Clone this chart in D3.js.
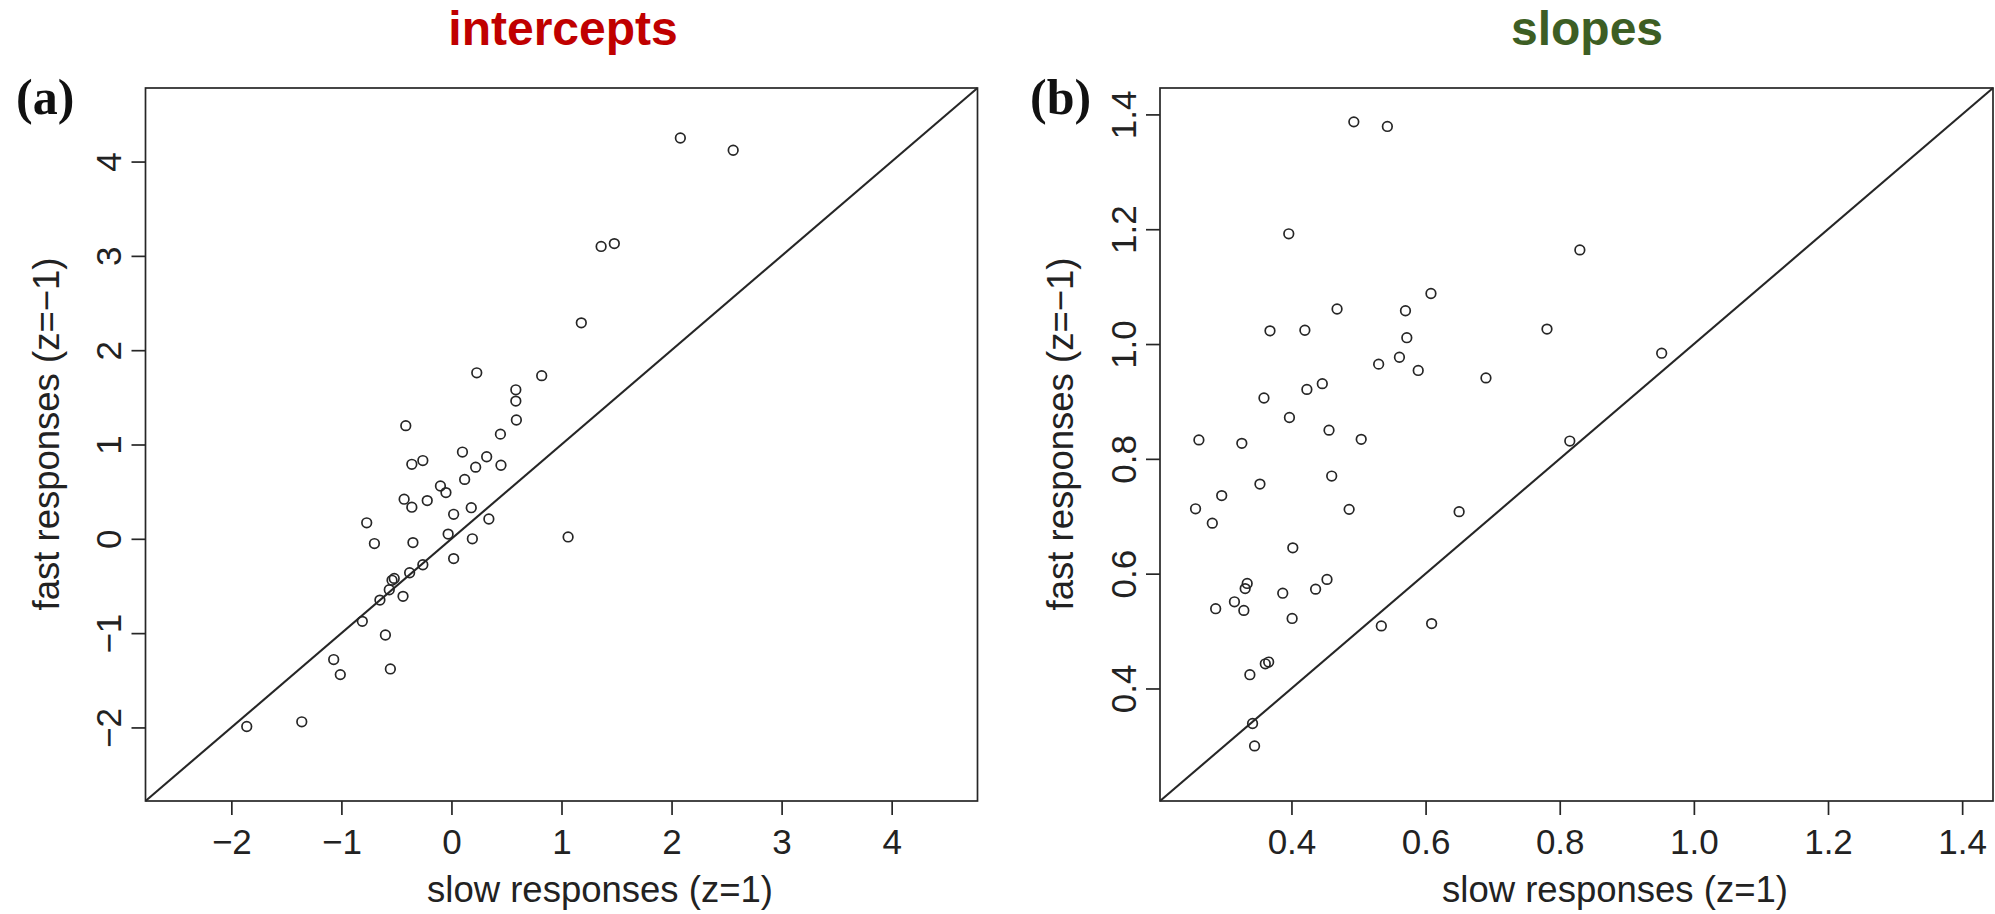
<!DOCTYPE html>
<html>
<head>
<meta charset="utf-8">
<script src="https://cdn.jsdelivr.net/npm/d3@7"></script>
<style>
  html, body { margin: 0; padding: 0; background: #fff; }
  svg { display: block; }
</style>
</head>
<body>
<svg id="chart" width="1995" height="914"></svg>
<script>
// Intercepts: slow responses (z=1) vs fast responses (z=-1)
const interceptSlow = [2.08, 2.56, 1.36, 1.48, 1.18, 0.23, 0.82, 0.585, 0.585, 0.59,
  -0.415, 0.445, 0.10, 0.32, -0.36, -0.26, 0.22, 0.45, 0.12, -0.10,
  -0.05, -0.43, -0.36, -0.22, 0.18, 0.02, 0.34, -0.77, -0.03, 0.19,
  -0.70, -0.35, 0.02, -0.26, -0.38, -0.54, -0.52, -0.565, -0.65, -0.44,
  -0.81, -0.60, -1.07, -1.01, -0.555, -1.86, -1.36, 1.06];
const interceptFast = [4.25, 4.12, 3.10, 3.13, 2.29, 1.76, 1.73, 1.58, 1.46, 1.26,
  1.20, 1.11, 0.92, 0.87, 0.79, 0.83, 0.76, 0.78, 0.63, 0.56,
  0.49, 0.42, 0.335, 0.405, 0.33, 0.26, 0.21, 0.17, 0.05, 0.00,
  -0.05, -0.04, -0.21, -0.275, -0.36, -0.44, -0.42, -0.54, -0.65, -0.61,
  -0.875, -1.02, -1.28, -1.44, -1.38, -1.99, -1.94, 0.02];

// Slopes: slow responses (z=1) vs fast responses (z=-1)
const slopeSlow = [0.493, 0.543, 0.396, 0.830, 0.608, 0.468, 0.570, 0.781, 0.368, 0.420,
  0.572, 0.952, 0.561, 0.530, 0.589, 0.690, 0.446, 0.423, 0.359, 0.397,
  0.456, 0.262, 0.504, 0.326, 0.815, 0.460, 0.353, 0.296, 0.257, 0.486,
  0.650, 0.282, 0.402, 0.334, 0.331, 0.453, 0.436, 0.387, 0.315, 0.287,
  0.329, 0.401, 0.534, 0.609, 0.366, 0.361, 0.338, 0.342, 0.345];
const slopeFast = [1.387, 1.379, 1.192, 1.164, 1.088, 1.061, 1.058, 1.026, 1.023, 1.024,
  1.011, 0.984, 0.977, 0.965, 0.954, 0.941, 0.931, 0.921, 0.906, 0.872,
  0.850, 0.833, 0.834, 0.827, 0.831, 0.770, 0.756, 0.736, 0.713, 0.712,
  0.708, 0.688, 0.645, 0.583, 0.574, 0.590, 0.573, 0.566, 0.551, 0.539,
  0.536, 0.522, 0.509, 0.513, 0.446, 0.443, 0.424, 0.339, 0.300];

// Axis ranges and tick values
const interceptDomain = [-2.78, 4.78];
const interceptTicks = [-2, -1, 0, 1, 2, 3, 4];
const slopeDomain = [0.204, 1.446];
const slopeTicks = [0.4, 0.6, 0.8, 1.0, 1.2, 1.4];

const panelTitles = ["intercepts", "slopes"];
const panelLetters = ["(a)", "(b)"];
const xTitle = "slow responses (z=1)";
const yTitle = "fast responses (z=\u22121)";

const svg = d3.select("#chart");
const ink = "#262626";
const sansFont = "'Liberation Sans', Arial, Helvetica, sans-serif";
const fmtInt = v => (v < 0 ? "\u2212" + Math.abs(v) : String(v));
const fmtDec = v => v.toFixed(1);

const panels = [
  { left: 145.5, right: 977.5, top: 88, bottom: 801,
    xs: interceptSlow, ys: interceptFast, domain: interceptDomain, ticks: interceptTicks, fmt: fmtInt,
    title: panelTitles[0], titleColor: "#c00000", titleX: 563,
    letter: panelLetters[0], letterX: 16, xTitleX: 600, yTitleY: 434 },
  { left: 1160, right: 1993, top: 88, bottom: 801,
    xs: slopeSlow, ys: slopeFast, domain: slopeDomain, ticks: slopeTicks, fmt: fmtDec,
    title: panelTitles[1], titleColor: "#3d5e24", titleX: 1587,
    letter: panelLetters[1], letterX: 1030, xTitleX: 1615, yTitleY: 434 }
];

panels.forEach(p => {
  const w = p.right - p.left, h = p.bottom - p.top;
  const x = d3.scaleLinear().domain(p.domain).range([0, w]);
  const y = d3.scaleLinear().domain(p.domain).range([h, 0]);

  const g = svg.append("g").attr("transform", `translate(${p.left},${p.top})`);

  // identity line y = x across the full range
  g.append("line")
    .attr("x1", x(p.domain[0])).attr("y1", y(p.domain[0]))
    .attr("x2", x(p.domain[1])).attr("y2", y(p.domain[1]))
    .attr("stroke", ink).attr("stroke-width", 2.1);

  // points
  g.selectAll("circle.pt")
    .data(p.xs.map((v, i) => [v, p.ys[i]]))
    .join("circle")
    .attr("class", "pt")
    .attr("cx", d => x(d[0])).attr("cy", d => y(d[1]))
    .attr("r", 4.8)
    .attr("fill", "none").attr("stroke", ink).attr("stroke-width", 1.7);

  // plot frame
  g.append("rect")
    .attr("x", 0).attr("y", 0).attr("width", w).attr("height", h)
    .attr("fill", "none").attr("stroke", ink).attr("stroke-width", 1.7);

  // bottom axis
  const xAxis = g.append("g").attr("transform", `translate(0,${h})`)
    .call(d3.axisBottom(x).tickValues(p.ticks).tickSize(14).tickSizeOuter(0).tickFormat(p.fmt));
  xAxis.select(".domain").remove();
  xAxis.selectAll(".tick line").attr("stroke", ink).attr("stroke-width", 1.7);
  xAxis.selectAll(".tick text")
    .attr("y", 53).attr("dy", 0)
    .attr("font-family", sansFont).attr("font-size", 35).attr("fill", "#222");

  // left axis with labels running along the axis
  const yAxis = g.append("g")
    .call(d3.axisLeft(y).tickValues(p.ticks).tickSize(14).tickSizeOuter(0).tickFormat(p.fmt));
  yAxis.select(".domain").remove();
  yAxis.selectAll(".tick line").attr("stroke", ink).attr("stroke-width", 1.7);
  yAxis.selectAll(".tick text")
    .attr("x", null).attr("dy", "0.35em")
    .attr("transform", "translate(-36.5,0) rotate(-90)")
    .attr("text-anchor", "middle")
    .attr("font-family", sansFont).attr("font-size", 35).attr("fill", "#222");

  // axis titles
  svg.append("text")
    .attr("x", p.xTitleX).attr("y", 902)
    .attr("text-anchor", "middle")
    .attr("font-family", sansFont).attr("font-size", 36.5).attr("fill", "#222")
    .text(xTitle);
  svg.append("text")
    .attr("transform", `translate(${p.left - 87},${p.yTitleY}) rotate(-90)`)
    .attr("text-anchor", "middle")
    .attr("font-family", sansFont).attr("font-size", 36.5).attr("fill", "#222")
    .text(yTitle);

  // panel title
  svg.append("text")
    .attr("x", p.titleX).attr("y", 45)
    .attr("text-anchor", "middle")
    .attr("font-family", sansFont).attr("font-weight", "bold").attr("font-size", 48)
    .attr("fill", p.titleColor)
    .text(p.title);

  // panel letter
  svg.append("text")
    .attr("x", p.letterX).attr("y", 114)
    .attr("font-family", "'Liberation Serif', 'Times New Roman', serif")
    .attr("font-weight", "bold").attr("font-size", 50).attr("fill", "#111")
    .text(p.letter);
});
</script>
</body>
</html>
